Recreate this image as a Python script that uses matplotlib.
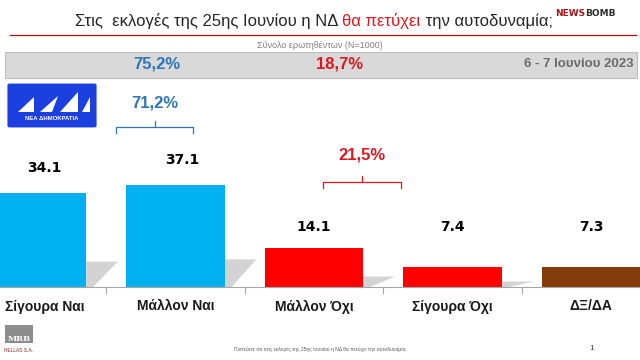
import numpy as np
import matplotlib.pyplot as plt
import matplotlib.transforms as mtrans
from matplotlib.patches import FancyBboxPatch, Rectangle, Polygon

plt.rcParams['font.family'] = ['Liberation Sans', 'DejaVu Sans']

# data
categories = ['Σίγουρα Ναι', 'Μάλλον Ναι', 'Μάλλον Όχι', 'Σίγουρα Όχι', 'ΔΞ/ΔΑ']
values = [34.1, 37.1, 14.1, 7.4, 7.3]
bar_colors = ['#00b0f0', '#00b0f0', '#ff0000', '#ff0000', '#843c0c']
yes_total = '75,2%'
no_total = '18,7%'
likely_yes = '71,2%'
likely_no = '21,5%'
title_parts = ['Στις  εκλογές της 25ης Ιουνίου η ΝΔ ', 'θα πετύχει', ' την αυτοδυναμία;']
subtitle = 'Σύνολο ερωτηθέντων (Ν=1000)'
dates = '6 - 7 Ιουνίου 2023'
footer = 'Πιστεύετε ότι στις εκλογές της 25ης Ιουνίου η ΝΔ θα πετύχει την αυτοδυναμία;'

BLUE_TXT = '#2e75b6'
RED_TXT = '#e0161e'
W, H = 640, 360

fig = plt.figure(figsize=(6.4, 3.6), dpi=100)
fig.patch.set_facecolor('white')

def fx(px):
    return px / W

def fy(py):
    return 1 - py / H

# axes: baseline at y=287px, spans full width
ax = fig.add_axes([0, fy(287), 1, (287 - 87) / H])
x = np.arange(len(categories))
width = 0.71
ax.set_xlim(-0.267, 4.354)
ax.set_ylim(0, 72.5)

# grey perspective shadows
for xi, v in zip(x, values):
    sh = 0.27 * v
    right = xi + width / 2
    ax.add_patch(Polygon([(right, 0), (right, sh), (right + 0.23, sh), (right + 0.05, 0)],
                         closed=True, facecolor='#d3d3d3', edgecolor='none', zorder=1))

ax.bar(x, values, width=width, color=bar_colors, zorder=2)

for xi, v in zip(x, values):
    ypos = v + 9 if v > 20 else 21.8
    ax.text(xi + (0.05 if v > 20 else 0), ypos, f'{v:.1f}', ha='center', va='center',
            fontsize=10, fontweight='bold', color='black', family='DejaVu Sans')

for s in ['top', 'right', 'left']:
    ax.spines[s].set_visible(False)
ax.spines['bottom'].set_color('#a6a6a6')
ax.spines['bottom'].set_linewidth(0.8)
ax.set_yticks([])
ax.set_xticks(x)
ax.set_xticklabels(categories, fontsize=10, color='#1a1a1a', fontweight='bold')
ax.tick_params(axis='x', which='major', length=0, pad=9)
ax.set_xticks(x[:-1] + 0.5, minor=True)
ax.tick_params(axis='x', which='minor', length=5, color='#a6a6a6', width=0.8)
ax.patch.set_alpha(0)

# first label sits against the left edge, as in the source
first = ax.get_xticklabels()[0]
first.set_horizontalalignment('left')
first.set_transform(first.get_transform() +
                    mtrans.ScaledTranslation(-32 / 100, 0, fig.dpi_scale_trans))

# title in three colours
fig.canvas.draw()
r = fig.canvas.get_renderer()
cols = ['#262626', '#e0161e', '#262626']
texts = [fig.text(0, fy(21), p, fontsize=12, color=c, va='center', ha='left')
         for p, c in zip(title_parts, cols)]
widths = [t.get_window_extent(renderer=r).width for t in texts]
start = 314 - sum(widths) / 2
for t, w in zip(texts, widths):
    t.set_x(fx(start))
    start += w

fig.add_artist(plt.Line2D([fx(10), fx(636)], [fy(35), fy(35)], color='#a31515', lw=0.9))
fig.text(fx(320), fy(46), subtitle, fontsize=6.5, color='#7f7f7f', ha='center', va='center')

# newsbomb logo
nb1 = fig.text(fx(555), fy(14), 'NEWS', fontsize=6.5, fontweight='bold', color='#a01818',
               ha='left', va='center', family='DejaVu Sans')
nbw = nb1.get_window_extent(renderer=r).width
fig.text(fx(555 + nbw), fy(14), 'BOMB', fontsize=6.5, fontweight='bold', color='#2b2b2b',
         ha='left', va='center', family='DejaVu Sans')

# grey band
fig.add_artist(Rectangle((fx(5), fy(78)), fx(632), (78 - 52) / H, facecolor='#d9d9d9',
                         edgecolor='#bfbfbf', lw=0.8))
fig.text(fx(157), fy(64), yes_total, fontsize=12, fontweight='bold', color=BLUE_TXT,
         ha='center', va='center')
fig.text(fx(340), fy(64), no_total, fontsize=12, fontweight='bold', color=RED_TXT,
         ha='center', va='center')
fig.text(fx(634), fy(64), dates, fontsize=9.5, fontweight='bold', color='#6b6b6b',
         ha='right', va='center')

# ND logo
fig.add_artist(FancyBboxPatch((fx(10), fy(126)), fx(84), (126 - 85) / H,
                              boxstyle='round,pad=0.004', facecolor='#1c3fe0', edgecolor='none'))
for tri in [[(18, 112), (34, 97), (34, 112)], [(40, 112), (58, 96), (52, 112)],
            [(60, 112), (78, 92), (78, 112)], [(82, 112), (90, 97), (90, 112)]]:
    fig.add_artist(Polygon([(fx(a), fy(b)) for a, b in tri], closed=True,
                           facecolor='white', edgecolor='none'))
fig.text(fx(52), fy(119), 'ΝΕΑ ΔΗΜΟΚΡΑΤΙΑ', fontsize=4.3, fontweight='bold', color='white',
         ha='center', va='center')

# brackets
def bracket(x0, x1, ytop, color, label, ylab):
    xm = (x0 + x1) / 2
    fig.add_artist(plt.Line2D([fx(x0), fx(x0), fx(x1), fx(x1)],
                              [fy(ytop + 6), fy(ytop), fy(ytop), fy(ytop + 6)],
                              color=color, lw=0.9))
    fig.add_artist(plt.Line2D([fx(xm), fx(xm)], [fy(ytop), fy(ytop - 6)], color=color, lw=0.9))
    fig.text(fx(xm), fy(ylab), label, fontsize=12, fontweight='bold', color=color,
             ha='center', va='center')

bracket(116, 193, 127, BLUE_TXT, likely_yes, 103)
bracket(323, 401, 182, RED_TXT, likely_no, 155)

# footer
fig.add_artist(Rectangle((fx(5), fy(343)), fx(28), (343 - 325) / H, facecolor='#8c8c8c',
                         edgecolor='none'))
fig.text(fx(19), fy(339), 'MRB', fontsize=6, fontweight='bold', color='white',
         ha='center', va='center', family='DejaVu Serif')
fig.text(fx(19), fy(350), 'HELLAS S.A.', fontsize=3.5, color='#8c2020', ha='center', va='center')
fig.text(fx(320), fy(349), footer, fontsize=3.6, color='#595959', ha='center', va='center')
fig.text(fx(592), fy(348), '1', fontsize=6, color='#404040', ha='center', va='center')

fig.savefig('out.png', dpi=100)
